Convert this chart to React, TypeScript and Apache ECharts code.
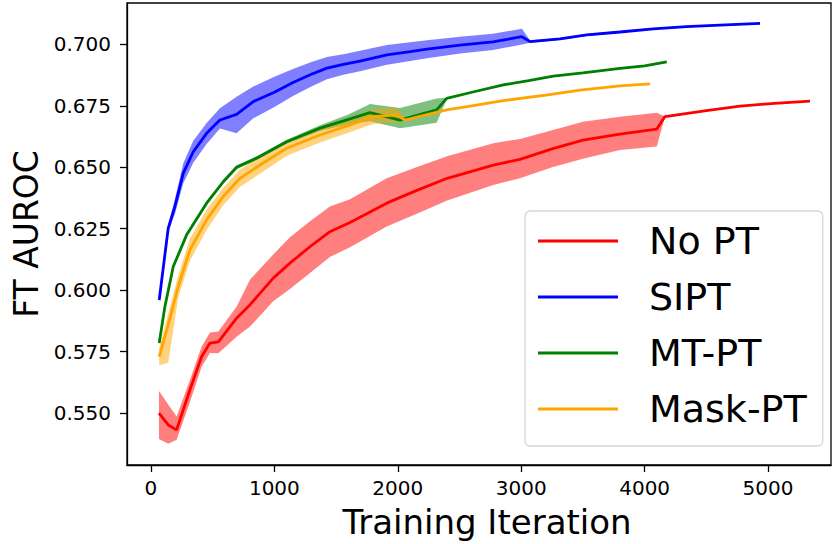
import React, { useEffect, useRef } from 'react';
import * as echarts from 'echarts';

// ---- tick labels ----
const xTicks = [0, 1000, 2000, 3000, 4000, 5000];
const yTicks = [0.55, 0.575, 0.6, 0.625, 0.65, 0.675, 0.7];
const legendNames = ['No PT', 'SIPT', 'MT-PT', 'Mask-PT'];

// ---- No PT (red) ----
const noptX = [65, 140, 208, 316, 411, 478, 546, 694, 803, 991, 1126, 1289, 1450, 1613, 1910, 2150, 2400, 2774, 2990, 3250, 3500, 3800, 4098, 4165, 4500, 4773, 5050, 5340];
const noptY = [0.550, 0.5452, 0.5432, 0.5595, 0.573, 0.5785, 0.579, 0.5886, 0.5941, 0.6049, 0.611, 0.6177, 0.6238, 0.6275, 0.6354, 0.6405, 0.6455, 0.6509, 0.6532, 0.6575, 0.661, 0.6635, 0.6655, 0.6706, 0.6730, 0.6749, 0.676, 0.6769];
const noptLo = [0.5395, 0.5375, 0.5392, 0.5545, 0.569, 0.5745, 0.5744, 0.5811, 0.5852, 0.5955, 0.6005, 0.607, 0.6135, 0.6175, 0.6259, 0.631, 0.6365, 0.6428, 0.6455, 0.65, 0.6535, 0.657, 0.6584, 0.6706, 0.6730, 0.6749, 0.676, 0.6769];
const noptHi = [0.559, 0.5535, 0.5486, 0.5635, 0.5771, 0.5828, 0.5832, 0.5933, 0.6043, 0.6145, 0.6215, 0.628, 0.634, 0.637, 0.6455, 0.650, 0.6545, 0.6598, 0.6615, 0.665, 0.6685, 0.6705, 0.6722, 0.6706, 0.6730, 0.6749, 0.676, 0.6769];

// ---- SIPT (blue) ----
const siptX = [67, 140, 194, 262, 343, 451, 559, 694, 829, 1000, 1151, 1300, 1426, 1560, 1694, 1912, 2100, 2237, 2504, 2771, 3006, 3071, 3314, 3531, 3800, 4071, 4340, 4611, 4935];
const siptY = [0.596, 0.6252, 0.634, 0.6476, 0.6563, 0.6638, 0.6692, 0.6715, 0.6767, 0.6805, 0.6845, 0.6878, 0.6903, 0.6918, 0.6932, 0.6957, 0.697, 0.698, 0.6997, 0.701, 0.7031, 0.7011, 0.7022, 0.7038, 0.705, 0.7063, 0.7072, 0.7078, 0.7085];
const siptLo = [0.595, 0.6237, 0.631, 0.6435, 0.6518, 0.6595, 0.6658, 0.6638, 0.6699, 0.6745, 0.679, 0.6828, 0.6858, 0.6876, 0.689, 0.6917, 0.6932, 0.6943, 0.6963, 0.6977, 0.6999, 0.7006, 0.7018, 0.7034, 0.7046, 0.706, 0.7069, 0.7075, 0.7082];
const siptHi = [0.597, 0.6267, 0.637, 0.6516, 0.6608, 0.668, 0.674, 0.6787, 0.6828, 0.6868, 0.690, 0.6928, 0.6948, 0.696, 0.6974, 0.6997, 0.7008, 0.7017, 0.7031, 0.7043, 0.7063, 0.7016, 0.7026, 0.7042, 0.7054, 0.7066, 0.7075, 0.7081, 0.7088];

// ---- MT-PT (green) ----
const mtX = [67, 113, 181, 289, 451, 586, 694, 856, 1100, 1370, 1600, 1775, 2018, 2315, 2396, 2600, 2855, 3060, 3260, 3500, 3801, 4000, 4179];
const mtY = [0.5785, 0.5933, 0.6096, 0.6225, 0.6354, 0.6441, 0.65, 0.6537, 0.6604, 0.6659, 0.6695, 0.6722, 0.6692, 0.6733, 0.678, 0.6805, 0.6835, 0.6852, 0.6871, 0.6884, 0.6902, 0.6912, 0.6929];
const mtLo = [0.5777, 0.5925, 0.6088, 0.6217, 0.6346, 0.6433, 0.6492, 0.6529, 0.6596, 0.6647, 0.6675, 0.6687, 0.6659, 0.6681, 0.6777, 0.6802, 0.6832, 0.6849, 0.6868, 0.6881, 0.6899, 0.6909, 0.6926];
const mtHi = [0.5793, 0.5941, 0.6104, 0.6233, 0.6362, 0.6449, 0.6508, 0.6545, 0.6612, 0.6671, 0.6715, 0.6757, 0.6741, 0.678, 0.6783, 0.6808, 0.6838, 0.6855, 0.6874, 0.6887, 0.6905, 0.6915, 0.6932];

// ---- Mask-PT (orange) ----
const maskX = [67, 140, 221, 316, 451, 586, 721, 883, 1100, 1370, 1600, 1801, 1991, 2058, 2396, 2600, 2855, 3200, 3477, 3801, 4043];
const maskY = [0.573, 0.5859, 0.6015, 0.6164, 0.6286, 0.6381, 0.6455, 0.6509, 0.6577, 0.6631, 0.667, 0.6706, 0.6713, 0.6692, 0.6733, 0.675, 0.6771, 0.6793, 0.6814, 0.6831, 0.6839];
const maskLo = [0.5695, 0.5705, 0.597, 0.612, 0.6245, 0.6345, 0.642, 0.6474, 0.6547, 0.6601, 0.664, 0.6676, 0.6683, 0.6689, 0.673, 0.6747, 0.6768, 0.679, 0.6811, 0.6828, 0.6836];
const maskHi = [0.5765, 0.5905, 0.606, 0.621, 0.6327, 0.6417, 0.649, 0.6544, 0.6607, 0.6661, 0.670, 0.6736, 0.6743, 0.6695, 0.6736, 0.6753, 0.6774, 0.6796, 0.6817, 0.6834, 0.6842];

const FONT = 'DejaVu Sans';

export default function App() {
  const ref = useRef<HTMLDivElement>(null);
  useEffect(() => {
    const chart = echarts.init(ref.current!, null, { renderer: 'svg' });
    const methods = [
      { name: legendNames[0], color: '#ff0000', band: 'rgba(255,0,0,0.5)', x: noptX, y: noptY, lo: noptLo, hi: noptHi },
      { name: legendNames[1], color: '#0000ff', band: 'rgba(0,0,255,0.5)', x: siptX, y: siptY, lo: siptLo, hi: siptHi },
      { name: legendNames[2], color: '#008000', band: 'rgba(0,128,0,0.5)', x: mtX, y: mtY, lo: mtLo, hi: mtHi },
      { name: legendNames[3], color: '#ffa500', band: 'rgba(255,165,0,0.5)', x: maskX, y: maskY, lo: maskLo, hi: maskHi },
    ];
    const bandSeries = methods.map((m) => ({
      type: 'custom',
      name: m.name + ' band',
      silent: true,
      z: 1,
      data: m.x.map((x, i) => [x, m.lo[i], m.hi[i]]),
      encode: { x: 0, y: [1, 2] },
      renderItem: (params: any, api: any) => {
        if (params.dataIndex !== 0) return null;
        const top = m.x.map((x, i) => api.coord([x, m.hi[i]]));
        const bot = m.x.map((x, i) => api.coord([x, m.lo[i]])).reverse();
        return {
          type: 'polygon',
          shape: { points: top.concat(bot) },
          style: { fill: m.band, stroke: 'none' },
        };
      },
    }));
    const lineSeries = methods.map((m) => ({
      type: 'line',
      name: m.name,
      color: m.color,
      z: 3,
      symbol: 'none',
      showSymbol: false,
      lineStyle: { color: m.color, width: 2.8 },
      data: m.x.map((x, i) => [x, m.y[i]]),
    }));
    const axisLineStyle = { color: '#000', width: 1.3 };
    chart.setOption({
      animation: false,
      grid: { left: 127, right: 2, top: 3, bottom: 79, show: true, borderColor: '#000', borderWidth: 1.3, backgroundColor: 'transparent' },
      xAxis: {
        type: 'value',
        min: -194,
        max: 5510,
        splitLine: { show: false },
        axisLine: { show: true, onZero: false, lineStyle: axisLineStyle },
        axisTick: { show: true, length: 7, lineStyle: axisLineStyle, customValues: xTicks },
        axisLabel: {
          customValues: xTicks,
          fontSize: 20,
          color: '#000',
          fontFamily: FONT,
          margin: 13,
          formatter: (v: number) => String(Math.round(v)),
        },
        name: 'Training Iteration',
        nameLocation: 'middle',
        nameGap: 40,
        nameTextStyle: { fontSize: 34, color: '#000', fontFamily: FONT, padding: [0, 0, 0, 16] },
      },
      yAxis: {
        type: 'value',
        min: 0.5289,
        max: 0.7168,
        splitLine: { show: false },
        axisLine: { show: true, onZero: false, lineStyle: axisLineStyle },
        axisTick: { show: true, length: 7, lineStyle: axisLineStyle, customValues: yTicks },
        axisLabel: {
          customValues: yTicks,
          fontSize: 20,
          color: '#000',
          fontFamily: FONT,
          margin: 16,
          formatter: (v: number) => v.toFixed(3),
        },
        name: 'FT AUROC',
        nameLocation: 'middle',
        nameGap: 83,
        nameTextStyle: { fontSize: 33, color: '#000', fontFamily: FONT },
      },
      legend: {
        data: legendNames,
        orient: 'vertical',
        left: 525,
        top: 211,
        icon: 'rect',
        itemWidth: 80,
        itemHeight: 3,
        itemGap: 16,
        padding: [10, 16, 17, 13],
        backgroundColor: '#ffffff',
        borderColor: '#d6d6d6',
        borderWidth: 1.3,
        borderRadius: 5,
        selectedMode: false,
        textStyle: { fontFamily: FONT, fontSize: 38, color: '#000', lineHeight: 40, padding: [0, 0, 0, 26] },
      },
      series: [...bandSeries, ...lineSeries],
    });
    return () => chart.dispose();
  }, []);
  return <div ref={ref} style={{ position: 'absolute', left: 0, top: 0, width: 833, height: 544 }} />;
}
